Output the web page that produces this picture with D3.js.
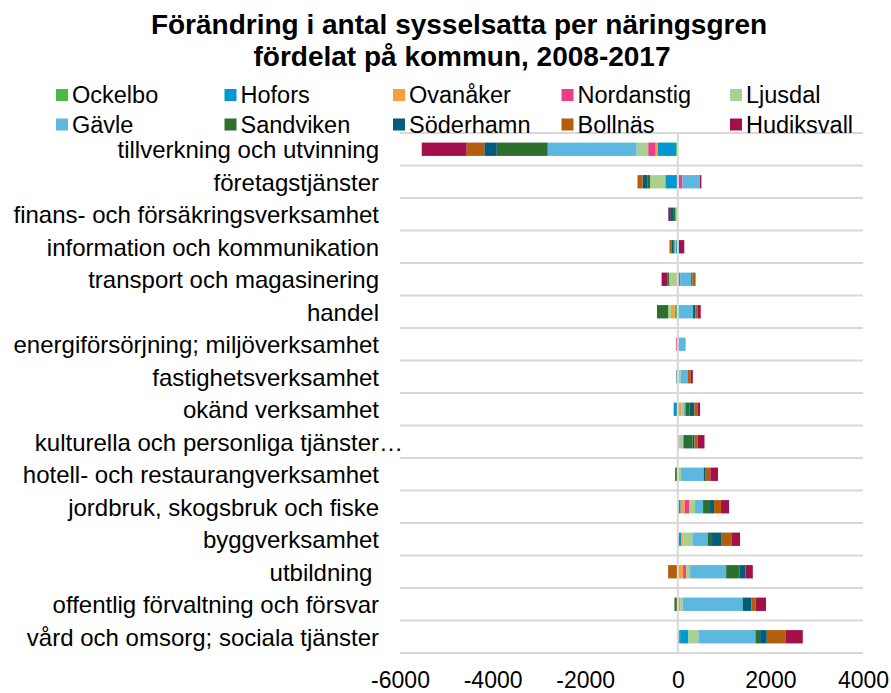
<!DOCTYPE html>
<html>
<head>
<meta charset="utf-8">
<script src="https://cdn.jsdelivr.net/npm/d3@7"></script>
<style>
  body { margin: 0; background: #fff; }
  text { font-family: "Liberation Sans", Arial, sans-serif; fill: #000; }
</style>
</head>
<body>
<div class="chart"></div>
<script>
// categories, top to bottom
var categories = [
  "tillverkning och utvinning",
  "företagstjänster",
  "finans- och försäkringsverksamhet",
  "information och kommunikation",
  "transport och magasinering",
  "handel",
  "energiförsörjning; miljöverksamhet",
  "fastighetsverksamhet",
  "okänd verksamhet",
  "kulturella och personliga tjänster…",
  "hotell- och restaurangverksamhet",
  "jordbruk, skogsbruk och fiske",
  "byggverksamhet",
  "utbildning ",
  "offentlig förvaltning och försvar",
  "vård och omsorg; sociala tjänster"
];

var municipalities = ["Ockelbo", "Hofors", "Ovanåker", "Nordanstig", "Ljusdal",
                      "Gävle", "Sandviken", "Söderhamn", "Bollnäs", "Hudiksvall"];
var colors = ["#4db848", "#0097d2", "#f9a03c", "#ee3e8a", "#a9d08e",
              "#5db8df", "#2e6f2e", "#005d7c", "#b15f0b", "#a30f4b"];

// change in employment 2008-2017, one value per category
var ockelbo    = [-40, 0, 0, 0, 0, -70, 0, 0, 0, 0, 0, 20, 20, 15, 0, 50];
var hofors     = [-400, -270, 0, -40, 0, 0, 0, 0, -90, 0, 0, 43, 58, 0, 0, 180];
var ovanaker   = [-40, 20, 0, 0, 0, -80, -20, 0, 85, 0, 0, 86, 43, 100, 40, 0];
var nordanstig = [-160, 80, 0, 0, 50, 0, -20, 0, 0, 30, 0, 94, 0, 65, 15, 0];
var ljusdal    = [-250, -330, -50, -30, -190, -60, 0, 60, 36, 72, 70, 130, 194, 86, 50, 216];
var gavle      = [-1920, 380, 0, 20, 240, 330, 170, 160, 43, 20, 490, 173, 331, 778, 1296, 1231];
var sandviken  = [-1100, -60, -35, -30, -30, -240, 0, 0, 86, 195, -58, 151, 94, 288, -72, 101];
var soderhamn  = [-270, -100, -80, -40, 25, 50, 0, -30, 108, 43, 43, 86, 209, 130, 187, 144];
var bollnas    = [-380, -110, 0, -40, 70, 45, 0, 60, 65, 72, 100, 151, 209, -209, 94, 403];
var hudiksvall = [-970, 30, -40, 120, -130, 70, 0, 45, 58, 144, 165, 173, 187, 158, 223, 374];

var tickValues = [-6000, -4000, -2000, 0, 2000, 4000];

var seriesValues = [ockelbo, hofors, ovanaker, nordanstig, ljusdal,
                    gavle, sandviken, soderhamn, bollnas, hudiksvall];

var table = categories.map(function (c, i) {
  var row = { cat: c };
  municipalities.forEach(function (m, j) { row[m] = seriesValues[j][i]; });
  return row;
});

var width = 891, height = 693;

var svg = d3.select(".chart")
  .append("svg")
  .attr("width", width)
  .attr("height", height);

var x = d3.scaleLinear().domain([-6000, 4000]).range([400, 863]);
var y = d3.scaleBand().domain(categories).range([133, 653]);
var barH = y.bandwidth() * 0.41;

// title
svg.append("text")
  .attr("x", 459).attr("y", 34)
  .attr("text-anchor", "middle")
  .style("font-size", "28px").style("font-weight", "bold")
  .text("Förändring i antal sysselsatta per näringsgren");
svg.append("text")
  .attr("x", 462).attr("y", 66)
  .attr("text-anchor", "middle")
  .style("font-size", "28px").style("font-weight", "bold")
  .text("fördelat på kommun, 2008-2017");

// horizontal gridlines at band edges
var edges = categories.map(function (c) { return y(c); }).concat([y.range()[1]]);
svg.append("g")
  .selectAll("line")
  .data(edges)
  .enter().append("line")
  .attr("x1", x.range()[0]).attr("x2", x.range()[1])
  .attr("y1", function (d) { return d; }).attr("y2", function (d) { return d; })
  .attr("stroke", "#d9d9d9").attr("stroke-width", 2);

// stacked bars
var stack = d3.stack()
  .keys(municipalities)
  .offset(d3.stackOffsetDiverging);
var layers = stack(table);

svg.append("g")
  .selectAll("g")
  .data(layers)
  .enter().append("g")
  .attr("fill", function (d, i) { return colors[i]; })
  .selectAll("rect")
  .data(function (d) { return d; })
  .enter().append("rect")
  .attr("x", function (d) { return x(Math.min(d[0], d[1])); })
  .attr("width", function (d) { return Math.abs(x(d[1]) - x(d[0])); })
  .attr("y", function (d) { return y(d.data.cat) + (y.bandwidth() - barH) / 2; })
  .attr("height", barH);

// vertical axis line at zero
svg.append("line")
  .attr("x1", x(0)).attr("x2", x(0))
  .attr("y1", y.range()[0]).attr("y2", y.range()[1])
  .attr("stroke", "#d9d9d9").attr("stroke-width", 2);

// category labels
svg.append("g")
  .selectAll("text")
  .data(categories)
  .enter().append("text")
  .attr("x", function (d) { return d.slice(-1) === "…" ? 403 : 379; })
  .attr("y", function (d) { return y(d) + y.bandwidth() / 2; })
  .attr("dy", "0.37em")
  .attr("text-anchor", "end")
  .style("font-size", "24px")
  .style("white-space", "pre")
  .text(function (d) { return d; });

// x axis tick labels
var xAxis = d3.axisBottom(x)
  .tickValues(tickValues)
  .tickFormat(function (d) { return String(d); })
  .tickSize(0).tickPadding(0);
var ax = svg.append("g")
  .attr("transform", "translate(0,672)")
  .call(xAxis);
ax.select(".domain").remove();
ax.selectAll("text")
  .attr("dy", "0.71em")
  .attr("fill", "#000")
  .style("font-size", "23px")
  .style("font-family", "'Liberation Sans', Arial, sans-serif");

// legend, 5 columns x 2 rows (drawn last, above the top gridline)
var legend = svg.append("g")
  .selectAll("g")
  .data(municipalities)
  .enter().append("g")
  .attr("transform", function (d, i) {
    return "translate(" + (56 + (i % 5) * 168.5) + "," + (89 + Math.floor(i / 5) * 29.5) + ")";
  });
legend.append("rect")
  .attr("width", 12).attr("height", 12)
  .attr("fill", function (d, i) { return colors[i]; });
legend.append("text")
  .attr("x", 16).attr("y", 14)
  .style("font-size", "23.5px")
  .text(function (d) { return d; });
</script>
</body>
</html>
